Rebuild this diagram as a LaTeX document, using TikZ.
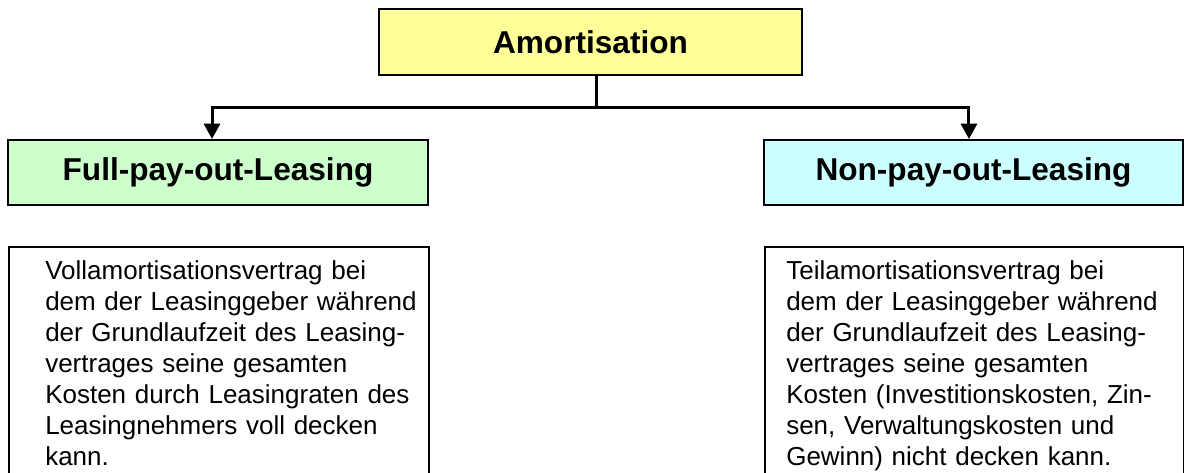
\documentclass[tikz,border=0pt]{standalone}
\usepackage{fontspec}
\setmainfont{Liberation Sans}
\usetikzlibrary{arrows.meta}
\definecolor{amortyellow}{HTML}{FFFF99}
\definecolor{fullgreen}{HTML}{CCFFCC}
\definecolor{noncyan}{HTML}{CCFFFF}

\begin{document}
\begin{tikzpicture}[x=0.75pt,y=-0.75pt,
	headbox/.style={draw=black, line width=1.5pt, inner sep=0pt,
		minimum height=48.75pt, font=\fontsize{23.7pt}{28pt}\selectfont\bfseries},
	descbox/.style={draw=black, line width=1.4pt, inner sep=0pt, anchor=north west,
		minimum height=190pt},
	desctext/.style={anchor=base west, inner sep=0pt, text width=300pt, align=left,
		font=\fontsize{19.5pt}{23.25pt}\selectfont},
	link/.style={line width=2.25pt},
	]
	\useasboundingbox (0,0) rectangle (1184,473);
	
	% headers
	\node[headbox, fill=amortyellow, minimum width=317.25pt, minimum height=49.5pt]
		(amort) at (590.5,42) {Amortisation};
	\node[headbox, fill=fullgreen, minimum width=315pt] (full) at (218,172.5) {Full-pay-out-Leasing};
	\node[headbox, fill=noncyan, minimum width=314.25pt] (non) at (973.5,172.5) {Non-pay-out-Leasing};
	
	% connectors
	\coordinate (fork) at (596,108);
	\draw[link] (amort.south -| fork) -- (fork);
	\draw[link, -{Triangle[width=12pt,length=11.5pt]}] (fork) -| ([xshift=-4.5pt]full.north);
	\draw[link, -{Triangle[width=12pt,length=11.5pt]}] (fork) -| ([xshift=-3.4pt]non.north);
	
	% descriptions
	\node[descbox, minimum width=315pt] (fulldesc) at (8,246) {};
	\node[descbox, minimum width=314.25pt] (nondesc) at (764,246) {};
	\node[desctext] (fulltext) at (45,280) {Vollamortisationsvertrag bei\\
		dem der Leasinggeber während\\
		der Grundlaufzeit des Leasing-\\
		vertrages seine gesamten\\
		Kosten durch Leasingraten des\\
		Leasingnehmers voll decken\\
		kann.};
	\node[desctext] (nontext) at (786,280) {Teilamortisationsvertrag bei\\
		dem der Leasinggeber während\\
		der Grundlaufzeit des Leasing-\\
		vertrages seine gesamten\\
		Kosten (Investitionskosten, Zin-\\
		sen, Verwaltungskosten und\\
		Gewinn) nicht decken kann.};
\end{tikzpicture}
\end{document}
